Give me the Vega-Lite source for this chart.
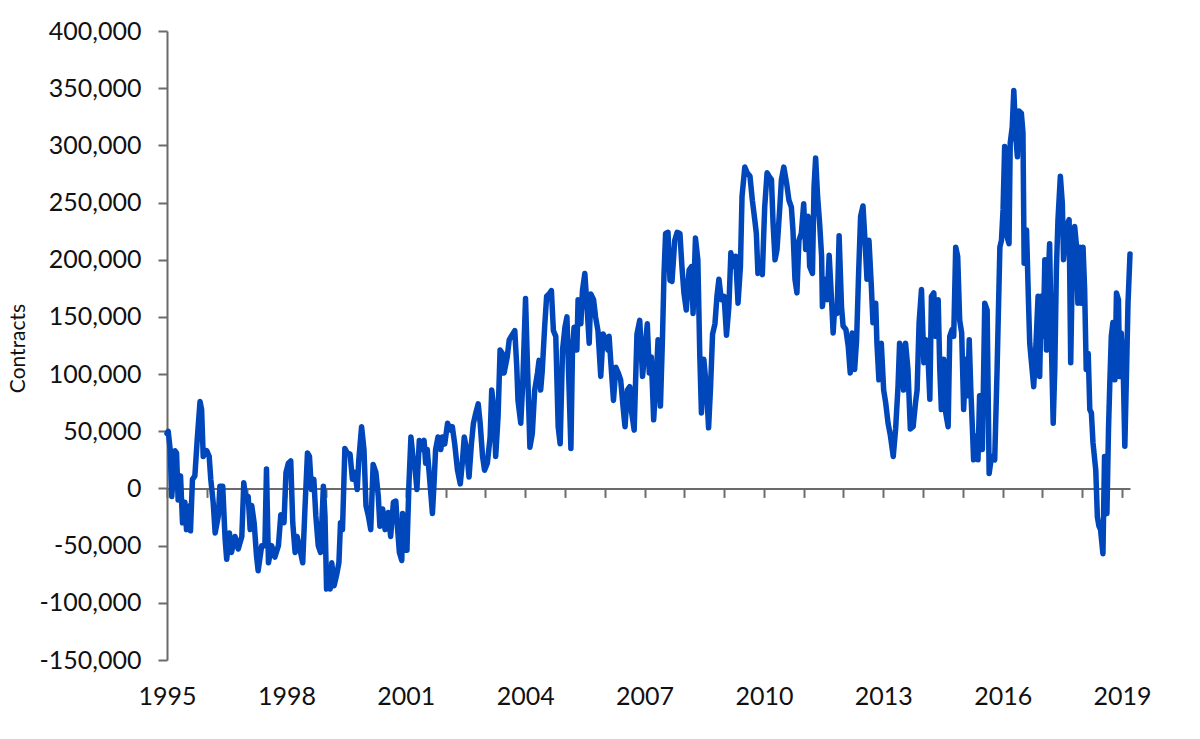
{
"$schema": "https://vega.github.io/schema/vega-lite/v6.json",
"width": 963, "height": 629,
"autosize": {"type": "none"},
"padding": {"left": 167, "top": 31, "right": 70, "bottom": 79},
"background": "white",
"config": {"view": {"stroke": null}, "font": "Lato"},
"data": {"values": [
{"year":1995.0,"contracts":48000},{"year":1995.03,"contracts":50000},{"year":1995.08,"contracts":34000},{"year":1995.12,"contracts":-7000},{"year":1995.2,"contracts":33000},{"year":1995.24,"contracts":31000},{"year":1995.28,"contracts":-10000},{"year":1995.34,"contracts":11000},{"year":1995.39,"contracts":-30000},{"year":1995.45,"contracts":-12000},{"year":1995.49,"contracts":-36000},{"year":1995.58,"contracts":-15000},{"year":1995.59,"contracts":-37000},{"year":1995.64,"contracts":8000},{"year":1995.7,"contracts":11000},{"year":1995.76,"contracts":43000},{"year":1995.83,"contracts":76000},{"year":1995.87,"contracts":69000},{"year":1995.91,"contracts":28000},{"year":1996.0,"contracts":33000},{"year":1996.06,"contracts":28000},{"year":1996.1,"contracts":8000},{"year":1996.16,"contracts":-12000},{"year":1996.21,"contracts":-39000},{"year":1996.29,"contracts":-24000},{"year":1996.33,"contracts":2000},{"year":1996.4,"contracts":2000},{"year":1996.46,"contracts":-44000},{"year":1996.5,"contracts":-62000},{"year":1996.57,"contracts":-39000},{"year":1996.62,"contracts":-56000},{"year":1996.71,"contracts":-42000},{"year":1996.79,"contracts":-53000},{"year":1996.88,"contracts":-42000},{"year":1996.93,"contracts":5000},{"year":1996.98,"contracts":-10000},{"year":1997.04,"contracts":-7000},{"year":1997.09,"contracts":-36000},{"year":1997.13,"contracts":-15000},{"year":1997.19,"contracts":-30000},{"year":1997.25,"contracts":-59000},{"year":1997.29,"contracts":-72000},{"year":1997.38,"contracts":-50000},{"year":1997.46,"contracts":-50000},{"year":1997.5,"contracts":17000},{"year":1997.55,"contracts":-65000},{"year":1997.63,"contracts":-50000},{"year":1997.71,"contracts":-60000},{"year":1997.8,"contracts":-50000},{"year":1997.86,"contracts":-23000},{"year":1997.94,"contracts":-30000},{"year":1997.99,"contracts":14000},{"year":1998.05,"contracts":22000},{"year":1998.11,"contracts":24000},{"year":1998.16,"contracts":-30000},{"year":1998.22,"contracts":-56000},{"year":1998.27,"contracts":-42000},{"year":1998.34,"contracts":-53000},{"year":1998.41,"contracts":-65000},{"year":1998.47,"contracts":-15000},{"year":1998.53,"contracts":31000},{"year":1998.58,"contracts":28000},{"year":1998.63,"contracts":-1000},{"year":1998.69,"contracts":8000},{"year":1998.74,"contracts":-24000},{"year":1998.8,"contracts":-50000},{"year":1998.86,"contracts":-56000},{"year":1998.93,"contracts":2000},{"year":1998.97,"contracts":-24000},{"year":1999.01,"contracts":-88000},{"year":1999.05,"contracts":-71000},{"year":1999.1,"contracts":-88000},{"year":1999.14,"contracts":-65000},{"year":1999.2,"contracts":-85000},{"year":1999.26,"contracts":-76000},{"year":1999.32,"contracts":-65000},{"year":1999.36,"contracts":-30000},{"year":1999.41,"contracts":-36000},{"year":1999.47,"contracts":35000},{"year":1999.53,"contracts":31000},{"year":1999.6,"contracts":30000},{"year":1999.66,"contracts":8000},{"year":1999.72,"contracts":14000},{"year":1999.78,"contracts":-1000},{"year":1999.82,"contracts":25000},{"year":1999.89,"contracts":54000},{"year":1999.95,"contracts":34000},{"year":2000.0,"contracts":-15000},{"year":2000.06,"contracts":-24000},{"year":2000.12,"contracts":-36000},{"year":2000.18,"contracts":21000},{"year":2000.25,"contracts":14000},{"year":2000.31,"contracts":-7000},{"year":2000.35,"contracts":-33000},{"year":2000.42,"contracts":-18000},{"year":2000.48,"contracts":-36000},{"year":2000.56,"contracts":-21000},{"year":2000.62,"contracts":-42000},{"year":2000.69,"contracts":-12000},{"year":2000.75,"contracts":-11000},{"year":2000.79,"contracts":-33000},{"year":2000.84,"contracts":-56000},{"year":2000.9,"contracts":-63000},{"year":2000.92,"contracts":-22000},{"year":2000.96,"contracts":-54000},{"year":2001.03,"contracts":-54000},{"year":2001.08,"contracts":4000},{"year":2001.13,"contracts":45000},{"year":2001.18,"contracts":28000},{"year":2001.23,"contracts":19000},{"year":2001.28,"contracts":-1000},{"year":2001.34,"contracts":42000},{"year":2001.39,"contracts":34000},{"year":2001.46,"contracts":42000},{"year":2001.5,"contracts":22000},{"year":2001.54,"contracts":34000},{"year":2001.61,"contracts":4000},{"year":2001.67,"contracts":-22000},{"year":2001.71,"contracts":4000},{"year":2001.75,"contracts":34000},{"year":2001.81,"contracts":45000},{"year":2001.88,"contracts":34000},{"year":2001.92,"contracts":45000},{"year":2001.98,"contracts":39000},{"year":2002.05,"contracts":57000},{"year":2002.13,"contracts":51000},{"year":2002.17,"contracts":54000},{"year":2002.23,"contracts":39000},{"year":2002.3,"contracts":16000},{"year":2002.37,"contracts":4000},{"year":2002.42,"contracts":22000},{"year":2002.47,"contracts":45000},{"year":2002.53,"contracts":34000},{"year":2002.59,"contracts":10000},{"year":2002.65,"contracts":39000},{"year":2002.7,"contracts":57000},{"year":2002.76,"contracts":66000},{"year":2002.82,"contracts":74000},{"year":2002.87,"contracts":57000},{"year":2002.93,"contracts":28000},{"year":2002.98,"contracts":16000},{"year":2003.05,"contracts":22000},{"year":2003.12,"contracts":45000},{"year":2003.16,"contracts":86000},{"year":2003.22,"contracts":68000},{"year":2003.26,"contracts":28000},{"year":2003.32,"contracts":63000},{"year":2003.37,"contracts":121000},{"year":2003.43,"contracts":118000},{"year":2003.47,"contracts":101000},{"year":2003.55,"contracts":115000},{"year":2003.6,"contracts":130000},{"year":2003.65,"contracts":133000},{"year":2003.74,"contracts":138000},{"year":2003.79,"contracts":106000},{"year":2003.82,"contracts":77000},{"year":2003.89,"contracts":57000},{"year":2003.94,"contracts":92000},{"year":2004.01,"contracts":166000},{"year":2004.06,"contracts":106000},{"year":2004.12,"contracts":36000},{"year":2004.18,"contracts":48000},{"year":2004.24,"contracts":86000},{"year":2004.31,"contracts":101000},{"year":2004.35,"contracts":112000},{"year":2004.39,"contracts":86000},{"year":2004.43,"contracts":103000},{"year":2004.49,"contracts":141000},{"year":2004.54,"contracts":168000},{"year":2004.6,"contracts":170000},{"year":2004.66,"contracts":173000},{"year":2004.71,"contracts":138000},{"year":2004.77,"contracts":133000},{"year":2004.83,"contracts":54000},{"year":2004.88,"contracts":39000},{"year":2004.94,"contracts":121000},{"year":2005.0,"contracts":141000},{"year":2005.05,"contracts":150000},{"year":2005.1,"contracts":92000},{"year":2005.15,"contracts":35000},{"year":2005.19,"contracts":121000},{"year":2005.23,"contracts":141000},{"year":2005.3,"contracts":121000},{"year":2005.33,"contracts":165000},{"year":2005.4,"contracts":144000},{"year":2005.44,"contracts":173000},{"year":2005.5,"contracts":188000},{"year":2005.55,"contracts":162000},{"year":2005.61,"contracts":127000},{"year":2005.65,"contracts":170000},{"year":2005.72,"contracts":165000},{"year":2005.77,"contracts":150000},{"year":2005.83,"contracts":138000},{"year":2005.9,"contracts":98000},{"year":2005.96,"contracts":135000},{"year":2006.03,"contracts":130000},{"year":2006.08,"contracts":121000},{"year":2006.11,"contracts":133000},{"year":2006.15,"contracts":112000},{"year":2006.22,"contracts":77000},{"year":2006.28,"contracts":106000},{"year":2006.34,"contracts":101000},{"year":2006.4,"contracts":95000},{"year":2006.47,"contracts":68000},{"year":2006.51,"contracts":54000},{"year":2006.57,"contracts":86000},{"year":2006.63,"contracts":89000},{"year":2006.67,"contracts":68000},{"year":2006.74,"contracts":51000},{"year":2006.81,"contracts":135000},{"year":2006.88,"contracts":147000},{"year":2006.95,"contracts":98000},{"year":2007.01,"contracts":121000},{"year":2007.07,"contracts":144000},{"year":2007.12,"contracts":101000},{"year":2007.17,"contracts":115000},{"year":2007.23,"contracts":60000},{"year":2007.3,"contracts":101000},{"year":2007.34,"contracts":130000},{"year":2007.4,"contracts":72000},{"year":2007.45,"contracts":130000},{"year":2007.49,"contracts":188000},{"year":2007.53,"contracts":223000},{"year":2007.59,"contracts":224000},{"year":2007.64,"contracts":182000},{"year":2007.69,"contracts":181000},{"year":2007.76,"contracts":217000},{"year":2007.82,"contracts":224000},{"year":2007.89,"contracts":223000},{"year":2007.94,"contracts":194000},{"year":2007.99,"contracts":171000},{"year":2008.05,"contracts":156000},{"year":2008.12,"contracts":191000},{"year":2008.18,"contracts":194000},{"year":2008.22,"contracts":153000},{"year":2008.28,"contracts":219000},{"year":2008.34,"contracts":200000},{"year":2008.39,"contracts":115000},{"year":2008.43,"contracts":66000},{"year":2008.49,"contracts":113000},{"year":2008.56,"contracts":86000},{"year":2008.61,"contracts":53000},{"year":2008.66,"contracts":89000},{"year":2008.71,"contracts":135000},{"year":2008.77,"contracts":144000},{"year":2008.82,"contracts":168000},{"year":2008.87,"contracts":183000},{"year":2008.93,"contracts":165000},{"year":2009.0,"contracts":168000},{"year":2009.06,"contracts":134000},{"year":2009.12,"contracts":159000},{"year":2009.17,"contracts":206000},{"year":2009.23,"contracts":194000},{"year":2009.29,"contracts":203000},{"year":2009.35,"contracts":162000},{"year":2009.41,"contracts":194000},{"year":2009.45,"contracts":255000},{"year":2009.52,"contracts":281000},{"year":2009.58,"contracts":276000},{"year":2009.65,"contracts":273000},{"year":2009.71,"contracts":252000},{"year":2009.77,"contracts":235000},{"year":2009.81,"contracts":223000},{"year":2009.85,"contracts":188000},{"year":2009.91,"contracts":194000},{"year":2009.96,"contracts":187000},{"year":2010.02,"contracts":246000},{"year":2010.08,"contracts":276000},{"year":2010.13,"contracts":273000},{"year":2010.19,"contracts":270000},{"year":2010.23,"contracts":232000},{"year":2010.28,"contracts":200000},{"year":2010.33,"contracts":209000},{"year":2010.4,"contracts":246000},{"year":2010.44,"contracts":270000},{"year":2010.5,"contracts":281000},{"year":2010.57,"contracts":267000},{"year":2010.63,"contracts":252000},{"year":2010.69,"contracts":246000},{"year":2010.73,"contracts":226000},{"year":2010.78,"contracts":183000},{"year":2010.83,"contracts":171000},{"year":2010.88,"contracts":217000},{"year":2010.94,"contracts":223000},{"year":2011.0,"contracts":249000},{"year":2011.05,"contracts":209000},{"year":2011.11,"contracts":238000},{"year":2011.15,"contracts":194000},{"year":2011.22,"contracts":188000},{"year":2011.26,"contracts":264000},{"year":2011.3,"contracts":289000},{"year":2011.35,"contracts":255000},{"year":2011.4,"contracts":232000},{"year":2011.45,"contracts":203000},{"year":2011.47,"contracts":159000},{"year":2011.53,"contracts":183000},{"year":2011.59,"contracts":165000},{"year":2011.64,"contracts":204000},{"year":2011.7,"contracts":165000},{"year":2011.74,"contracts":136000},{"year":2011.78,"contracts":159000},{"year":2011.84,"contracts":153000},{"year":2011.89,"contracts":221000},{"year":2011.95,"contracts":159000},{"year":2011.99,"contracts":142000},{"year":2012.06,"contracts":139000},{"year":2012.12,"contracts":124000},{"year":2012.17,"contracts":101000},{"year":2012.22,"contracts":136000},{"year":2012.28,"contracts":104000},{"year":2012.33,"contracts":130000},{"year":2012.38,"contracts":188000},{"year":2012.43,"contracts":238000},{"year":2012.49,"contracts":247000},{"year":2012.54,"contracts":217000},{"year":2012.59,"contracts":183000},{"year":2012.64,"contracts":217000},{"year":2012.7,"contracts":177000},{"year":2012.74,"contracts":145000},{"year":2012.81,"contracts":162000},{"year":2012.84,"contracts":127000},{"year":2012.89,"contracts":95000},{"year":2012.95,"contracts":127000},{"year":2013.01,"contracts":86000},{"year":2013.06,"contracts":75000},{"year":2013.12,"contracts":57000},{"year":2013.18,"contracts":46000},{"year":2013.25,"contracts":28000},{"year":2013.31,"contracts":52000},{"year":2013.37,"contracts":89000},{"year":2013.41,"contracts":127000},{"year":2013.47,"contracts":121000},{"year":2013.51,"contracts":86000},{"year":2013.56,"contracts":127000},{"year":2013.62,"contracts":104000},{"year":2013.68,"contracts":52000},{"year":2013.75,"contracts":54000},{"year":2013.81,"contracts":75000},{"year":2013.85,"contracts":86000},{"year":2013.9,"contracts":145000},{"year":2013.96,"contracts":174000},{"year":2014.02,"contracts":110000},{"year":2014.07,"contracts":130000},{"year":2014.13,"contracts":110000},{"year":2014.17,"contracts":78000},{"year":2014.21,"contracts":168000},{"year":2014.27,"contracts":171000},{"year":2014.32,"contracts":133000},{"year":2014.38,"contracts":165000},{"year":2014.42,"contracts":104000},{"year":2014.46,"contracts":69000},{"year":2014.52,"contracts":113000},{"year":2014.57,"contracts":66000},{"year":2014.63,"contracts":54000},{"year":2014.67,"contracts":133000},{"year":2014.73,"contracts":139000},{"year":2014.77,"contracts":133000},{"year":2014.82,"contracts":211000},{"year":2014.87,"contracts":203000},{"year":2014.92,"contracts":147000},{"year":2014.97,"contracts":136000},{"year":2015.02,"contracts":69000},{"year":2015.07,"contracts":113000},{"year":2015.12,"contracts":81000},{"year":2015.16,"contracts":130000},{"year":2015.2,"contracts":86000},{"year":2015.24,"contracts":52000},{"year":2015.27,"contracts":25000},{"year":2015.34,"contracts":46000},{"year":2015.38,"contracts":25000},{"year":2015.42,"contracts":81000},{"year":2015.49,"contracts":34000},{"year":2015.55,"contracts":162000},{"year":2015.61,"contracts":156000},{"year":2015.66,"contracts":13000},{"year":2015.72,"contracts":28000},{"year":2015.8,"contracts":25000},{"year":2015.86,"contracts":104000},{"year":2015.93,"contracts":211000},{"year":2015.97,"contracts":217000},{"year":2016.01,"contracts":244000},{"year":2016.05,"contracts":299000},{"year":2016.11,"contracts":220000},{"year":2016.16,"contracts":214000},{"year":2016.19,"contracts":302000},{"year":2016.24,"contracts":316000},{"year":2016.28,"contracts":348000},{"year":2016.33,"contracts":308000},{"year":2016.37,"contracts":290000},{"year":2016.41,"contracts":330000},{"year":2016.47,"contracts":328000},{"year":2016.51,"contracts":311000},{"year":2016.54,"contracts":197000},{"year":2016.6,"contracts":226000},{"year":2016.65,"contracts":162000},{"year":2016.68,"contracts":127000},{"year":2016.74,"contracts":104000},{"year":2016.78,"contracts":89000},{"year":2016.83,"contracts":121000},{"year":2016.89,"contracts":168000},{"year":2016.93,"contracts":98000},{"year":2016.97,"contracts":168000},{"year":2017.02,"contracts":133000},{"year":2017.06,"contracts":200000},{"year":2017.1,"contracts":121000},{"year":2017.14,"contracts":179000},{"year":2017.18,"contracts":214000},{"year":2017.22,"contracts":133000},{"year":2017.27,"contracts":57000},{"year":2017.31,"contracts":104000},{"year":2017.35,"contracts":191000},{"year":2017.39,"contracts":235000},{"year":2017.45,"contracts":273000},{"year":2017.5,"contracts":249000},{"year":2017.53,"contracts":200000},{"year":2017.58,"contracts":220000},{"year":2017.63,"contracts":232000},{"year":2017.67,"contracts":235000},{"year":2017.71,"contracts":110000},{"year":2017.75,"contracts":191000},{"year":2017.81,"contracts":229000},{"year":2017.85,"contracts":214000},{"year":2017.89,"contracts":162000},{"year":2017.94,"contracts":211000},{"year":2017.98,"contracts":162000},{"year":2018.02,"contracts":211000},{"year":2018.06,"contracts":174000},{"year":2018.1,"contracts":104000},{"year":2018.15,"contracts":118000},{"year":2018.19,"contracts":69000},{"year":2018.23,"contracts":66000},{"year":2018.27,"contracts":40000},{"year":2018.34,"contracts":16000},{"year":2018.38,"contracts":-25000},{"year":2018.42,"contracts":-33000},{"year":2018.46,"contracts":-36000},{"year":2018.52,"contracts":-57000},{"year":2018.56,"contracts":28000},{"year":2018.59,"contracts":-13000},{"year":2018.62,"contracts":-22000},{"year":2018.66,"contracts":52000},{"year":2018.69,"contracts":89000},{"year":2018.73,"contracts":133000},{"year":2018.77,"contracts":145000},{"year":2018.82,"contracts":95000},{"year":2018.86,"contracts":171000},{"year":2018.91,"contracts":165000},{"year":2018.94,"contracts":98000},{"year":2018.98,"contracts":136000},{"year":2019.03,"contracts":104000},{"year":2019.07,"contracts":37000},{"year":2019.11,"contracts":98000},{"year":2019.15,"contracts":162000},{"year":2019.2,"contracts":205000}
]},
"encoding": {
  "y": {"field": "contracts", "type": "quantitative", "scale": {"domain": [-150000, 400000], "nice": false, "zero": false},
   "axis": {"orient": "left", "values": [-150000,-100000,-50000,0,50000,100000,150000,200000,250000,300000,350000,400000], "grid": false, "domainColor": "#6b6b6b", "domainWidth": 2, "tickColor": "#6b6b6b", "tickWidth": 2, "tickSize": 9, "labelFontSize": 25, "labelPadding": 17, "labelColor": "#111111", "labelFlush": false, "labelExpr": "replace(format(datum.value, ','), '\u2212', '-')", "title": "Contracts", "titleFontSize": 21, "titleFontWeight": "normal", "titleColor": "#111111", "titleX": -149, "titleY": 317, "titleAngle": -90, "titleAlign": "center", "titleBaseline": "middle"}}
},
"layer": [
{"mark": {"type": "line", "opacity": 0},
 "encoding": {
  "x": {"field": "year", "type": "quantitative", "scale": {"domain": [1995, 2019.2], "nice": false, "zero": false},
   "axis": {"orient": "bottom", "values": [1995,1996,1997,1998,1999,2000,2001,2002,2003,2004,2005,2006,2007,2008,2009,2010,2011,2012,2013,2014,2015,2016,2017,2018,2019], "labels": false, "domain": true, "domainColor": "#6b6b6b", "domainWidth": 2, "ticks": true, "tickSize": 9, "tickWidth": 2, "tickColor": "#6b6b6b", "grid": false, "title": null, "offset": -171.6}}
 }},
{"mark": {"type": "line", "color": "#0047BB", "strokeWidth": 5.5, "strokeJoin": "round", "strokeCap": "round"},
 "encoding": {
  "x": {"field": "year", "type": "quantitative", "scale": {"domain": [1995, 2019.2], "nice": false, "zero": false},
   "axis": {"orient": "bottom", "values": [1995,1998,2001,2004,2007,2010,2013,2016,2019], "format": "d", "domain": false, "ticks": false, "grid": false, "labelFontSize": 25, "labelColor": "#111111", "labelPadding": 24, "labelFlush": false, "title": null}}
 }}
],
"resolve": {"axis": {"x": "independent"}}
}
